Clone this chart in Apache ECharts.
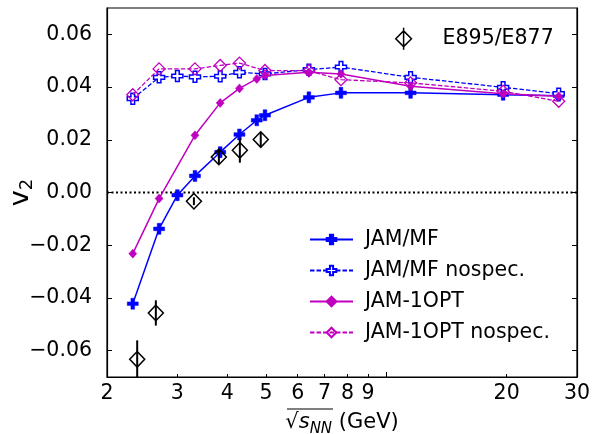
<!DOCTYPE html>
<html><head><meta charset="utf-8">
<script src="https://cdn.jsdelivr.net/npm/echarts@6/dist/echarts.min.js"></script>
<style>html,body{margin:0;padding:0;background:#fff}#c{width:592px;height:434px}</style>
</head><body><div id="c"></div>
<script>
// tick values
const xTickLabels = [2, 3, 4, 5, 6, 7, 8, 9, 20, 30];
const xTickMinor = [2, 3, 4, 5, 6, 7, 8, 9, 20, 30];
const xTickMajor = [10];
const yTicks = [-0.06, -0.04, -0.02, 0, 0.02, 0.04, 0.06];
const xRange = [2, 30];
const zeroLevel = 0;

// JAM/MF
const mfX = [2.32, 2.70, 3.0, 3.32, 3.84, 4.29, 4.74, 4.97, 6.4, 7.7, 11.5, 19.6, 27];
const mfY = [-0.0422, -0.0138, -0.0010, 0.0063, 0.0153, 0.0220, 0.0274, 0.0293, 0.0361, 0.0378, 0.0378, 0.0371, 0.0367];
// JAM/MF nospec.
const mfnsX = [2.32, 2.70, 3.0, 3.32, 3.84, 4.29, 4.97, 6.4, 7.7, 11.5, 19.6, 27];
const mfnsY = [0.0356, 0.0437, 0.0442, 0.0439, 0.0441, 0.0456, 0.0450, 0.0466, 0.0476, 0.0437, 0.0399, 0.0375];
// JAM-1OPT
const optX = [2.32, 2.70, 3.32, 3.84, 4.29, 4.74, 4.97, 6.4, 7.7, 11.5, 19.6, 27];
const optY = [-0.0232, -0.0023, 0.0217, 0.0340, 0.0395, 0.0431, 0.0444, 0.0456, 0.0450, 0.0403, 0.0375, 0.0365];
// JAM-1OPT nospec.
const optnsX = [2.32, 2.70, 3.32, 3.84, 4.29, 4.97, 6.4, 7.7, 11.5, 19.6, 27];
const optnsY = [0.0371, 0.0469, 0.0469, 0.0482, 0.0491, 0.0463, 0.0462, 0.0428, 0.0416, 0.0384, 0.0346];
// E895/E877 data
const expX = [2.38, 2.65, 3.30, 3.81, 4.30, 4.85];
const expY = [-0.0633, -0.0457, -0.0033, 0.0135, 0.0160, 0.0201];
const expErr = [0.0072, 0.0048, 0.0015, 0.0027, 0.0047, 0.0025];

const BLUE = '#0000ff', MAG = '#bf00bf';
const FONT = 'DejaVu Sans';
const PLUS = 'path://M1,0 L2,0 L2,1 L3,1 L3,2 L2,2 L2,3 L1,3 L1,2 L0,2 L0,1 L1,1 Z';

const zip = (xs, ys) => xs.map((x, i) => [x, ys[i]]);

const chart = echarts.init(document.getElementById('c'), null, {renderer: 'canvas'});
const fmtY = v => { const s = Math.abs(v).toFixed(2); return v < -1e-9 ? '\u2212' + s : s; };

chart.setOption({
  animation: false,
  backgroundColor: '#fff',
  grid: {left: 107, right: 15, top: 8, bottom: 57, containLabel: false, outerBoundsMode: 'none',
    show: true, borderColor: '#000', borderWidth: 1.2, backgroundColor: 'transparent'},
  xAxis: [{
    type: 'log', logBase: 10, min: xRange[0], max: xRange[1], position: 'bottom',
    axisLine: {show: true, onZero: false, lineStyle: {color: '#000', width: 1.2}},
    axisTick: {show: true, inside: true, length: 3, customValues: xTickMinor, lineStyle: {color: '#000', width: 1}},
    minorTick: {show: false},
    splitLine: {show: false},
    axisLabel: {show: true, customValues: xTickLabels, margin: 6, color: '#000', fontSize: 20.5, fontFamily: FONT,
      formatter: v => String(Math.round(v))},
    name: '{r|\u221A}{s|s}{n|NN}{g| (GeV)}',
    nameLocation: 'middle', nameGap: 32, nameMoveOverlap: false,
    nameTextStyle: {color: '#000', fontFamily: FONT, fontSize: 20.5,
      rich: {
        r: {fontSize: 21, fontFamily: FONT, color: '#000', lineHeight: 28, verticalAlign: 'middle'},
        s: {fontSize: 21, fontFamily: FONT, fontStyle: 'italic', color: '#000', lineHeight: 28, verticalAlign: 'middle'},
        n: {fontSize: 15, fontFamily: FONT, fontStyle: 'italic', color: '#000', lineHeight: 15, verticalAlign: 'bottom'},
        g: {fontSize: 21, fontFamily: FONT, color: '#000', lineHeight: 28, verticalAlign: 'middle'}
      }}
  }, {
    type: 'log', logBase: 10, min: xRange[0], max: xRange[1], position: 'bottom',
    axisLine: {show: false, onZero: false},
    axisTick: {show: true, inside: true, length: 5, customValues: xTickMajor, lineStyle: {color: '#000', width: 1}},
    splitLine: {show: false},
    axisLabel: {show: false}
  }],
  yAxis: [{
    type: 'value', min: -0.07, max: 0.07, position: 'left',
    axisLine: {show: true, onZero: false, lineStyle: {color: '#000', width: 1.2}},
    axisTick: {show: true, inside: true, length: 5, customValues: yTicks, lineStyle: {color: '#000', width: 1}},
    splitLine: {show: false},
    axisLabel: {show: true, customValues: yTicks, margin: 15, color: '#000', fontSize: 20.5, fontFamily: FONT, formatter: fmtY},
    name: '{v|v}{sub|2}', nameLocation: 'middle', nameRotate: 90, nameGap: 71, nameMoveOverlap: false,
    nameTextStyle: {color: '#000', fontFamily: FONT,
      rich: {
        v: {fontSize: 27, fontFamily: FONT, color: '#000', lineHeight: 30, verticalAlign: 'middle'},
        sub: {fontSize: 18, fontFamily: FONT, color: '#000', lineHeight: 18, verticalAlign: 'bottom'}
      }}
  }, {
    type: 'value', min: -0.07, max: 0.07, position: 'right',
    axisLine: {show: true, onZero: false, lineStyle: {color: '#000', width: 1.2}},
    axisTick: {show: true, inside: true, length: 5, customValues: yTicks, lineStyle: {color: '#000', width: 1}},
    splitLine: {show: false},
    axisLabel: {show: false}
  }],
  legend: [{
    orient: 'vertical', left: 304, top: 224, itemWidth: 43, itemHeight: 12, itemGap: 10,
    textStyle: {color: '#000', fontSize: 20.5, fontFamily: FONT, padding: [0, 0, 0, 7]},
    data: ['JAM/MF', 'JAM/MF nospec.', 'JAM-1OPT', 'JAM-1OPT nospec.']
  }, {
    orient: 'vertical', left: 390, top: 22, itemWidth: 40, itemHeight: 22,
    textStyle: {color: '#000', fontSize: 20.5, fontFamily: FONT, padding: [0, 0, 0, 14]},
    data: [{name: 'E895/E877', icon: 'path://M0,3 L7.5,10.5 L0,18 L-7.5,10.5 Z M0,0 L0,21',
      itemStyle: {color: 'rgba(0,0,0,0)', borderColor: '#000', borderWidth: 1.5}}]
  }],
  graphic: [{
    type: 'line', shape: {x1: 287, y1: 409, x2: 333, y2: 409}, style: {stroke: '#000', lineWidth: 1.2}, silent: true
  }],
  series: [{
    name: 'zero', type: 'line', data: [[xRange[0], zeroLevel], [xRange[1], zeroLevel]], z: 2,
    symbol: 'none', silent: true, legendHoverLink: false,
    lineStyle: {color: '#000', width: 2, type: [2, 2.5]}
  }, {
    name: 'JAM/MF', type: 'line', data: zip(mfX, mfY), z: 3,
    symbol: PLUS, symbolSize: 11,
    lineStyle: {color: BLUE, width: 1.5, type: 'solid'},
    itemStyle: {color: BLUE, borderColor: BLUE, borderWidth: 0.5}
  }, {
    name: 'JAM/MF nospec.', type: 'line', data: zip(mfnsX, mfnsY), z: 4,
    symbol: PLUS, symbolSize: 11,
    lineStyle: {color: BLUE, width: 1.3, type: [4.5, 2]},
    itemStyle: {color: '#fff', borderColor: BLUE, borderWidth: 1.5}
  }, {
    name: 'JAM-1OPT', type: 'line', data: zip(optX, optY), z: 5,
    symbol: 'diamond', symbolSize: [8, 9],
    lineStyle: {color: MAG, width: 1.5, type: 'solid'},
    itemStyle: {color: MAG, borderColor: MAG, borderWidth: 0.5}
  }, {
    name: 'JAM-1OPT nospec.', type: 'line', data: zip(optnsX, optnsY), z: 6,
    symbol: 'diamond', symbolSize: [12, 12],
    lineStyle: {color: MAG, width: 1.3, type: [4.5, 2]},
    itemStyle: {color: 'rgba(255,255,255,0)', borderColor: MAG, borderWidth: 1.3}
  }, {
    name: 'E895/E877', type: 'custom', z: 7, clip: true,
    data: expX.map((x, i) => [x, expY[i], expErr[i]]),
    encode: {x: 0, y: 1},
    itemStyle: {color: '#000'},
    renderItem: function (params, api) {
      const x = api.value(0), y = api.value(1), e = api.value(2);
      const c = api.coord([x, y]);
      const t = api.coord([x, y + e]);
      const b = api.coord([x, y - e]);
      const w = 7.5, h = 7.8;
      return {type: 'group', children: [
        {type: 'polygon', shape: {points: [[c[0], c[1] - h], [c[0] + w, c[1]], [c[0], c[1] + h], [c[0] - w, c[1]]]},
          style: {fill: 'none', stroke: '#000', lineWidth: 1.5}},
        {type: 'line', shape: {x1: t[0], y1: t[1], x2: b[0], y2: b[1]}, style: {stroke: '#000', lineWidth: 2}}
      ]};
    }
  }]
});
</script></body></html>
